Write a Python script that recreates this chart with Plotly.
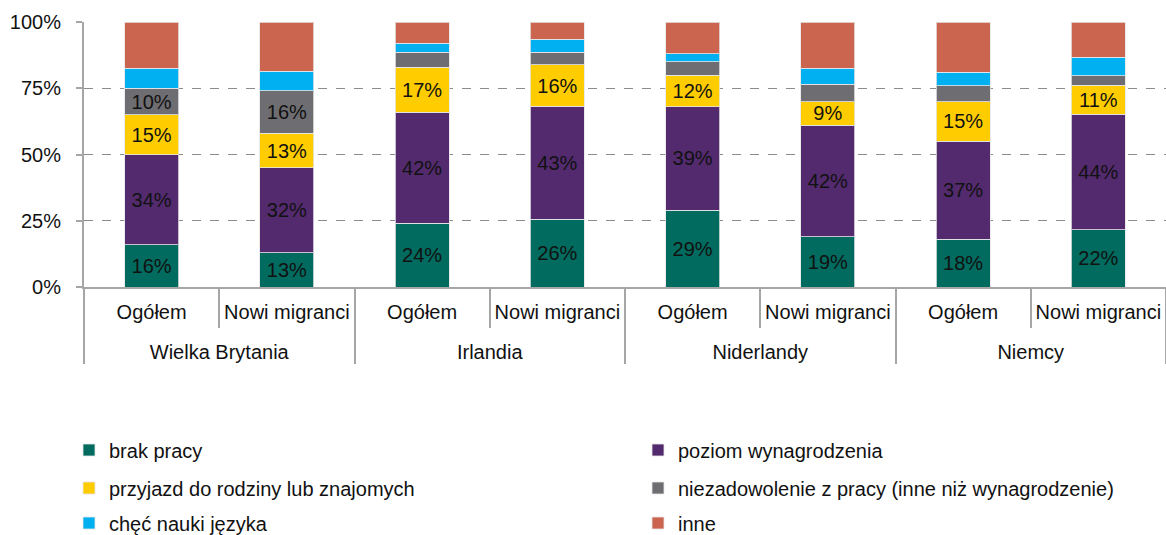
import plotly.graph_objects as go

countries = ["Wielka Brytania", "Wielka Brytania", "Irlandia", "Irlandia",
             "Niderlandy", "Niderlandy", "Niemcy", "Niemcy"]
groups = ["Ogółem", "Nowi migranci"] * 4

brak_pracy = [16, 13, 24, 25.6, 29, 19, 18, 21.6]
poziom_wynagrodzenia = [34, 32, 42, 42.6, 39, 42, 37, 43.6]
przyjazd = [15, 13, 17, 15.6, 12, 9, 15, 11]
niezadowolenie = [10, 16, 5.5, 4.8, 5, 6.5, 6, 3.5]
chec_nauki = [7.5, 7.5, 3.5, 4.8, 3, 6, 5, 7]
inne = [17.5, 18.5, 8, 6.6, 12, 17.5, 19, 13.3]
niezadowolenie_labeled = [True, True, False, False, False, False, False, False]

y_ticks = [0, 25, 50, 75, 100]

series = [
    ("brak pracy", brak_pracy, "#006B5E", [True] * 8),
    ("poziom wynagrodzenia", poziom_wynagrodzenia, "#532A6E", [True] * 8),
    ("przyjazd do rodziny lub znajomych", przyjazd, "#FFCC00", [True] * 8),
    ("niezadowolenie z pracy (inne niż wynagrodzenie)", niezadowolenie, "#6E6D71",
     niezadowolenie_labeled),
    ("chęć nauki języka", chec_nauki, "#00B0F0", [False] * 8),
    ("inne", inne, "#CB654F", [False] * 8),
]

W, H = 1166, 535
legend_cols = [69 / W, 638 / W]
legend_rows = [(H - 450) / H, (H - 488) / H, (H - 523) / H]

# a tiny extra line under each group label spaces the country row further down
group_labels = [g + "<br><span style='font-size:1px'>\u00a0</span>" for g in groups]

FONT = "Liberation Sans, Arial, sans-serif"

fig = go.Figure()
legend_layout = {}
for i, (name, vals, color, labeled) in enumerate(series):
    leg = "legend" if i == 0 else f"legend{i + 1}"
    fig.add_trace(go.Bar(
        name=name,
        x=[countries, group_labels],
        y=vals,
        marker=dict(color=color, line=dict(color="rgba(230,230,230,0.8)", width=1)),
        text=[f"{v:.0f}%" if show else "" for v, show in zip(vals, labeled)],
        textposition="inside",
        insidetextanchor="middle",
        textangle=0,
        textfont=dict(family=FONT, size=20, color="#111111"),
        legend=leg,
        showlegend=True,
        hoverinfo="skip",
    ))
    legend_layout[leg] = dict(
        visible=True,
        orientation="h", xref="container", yref="container",
        x=legend_cols[i % 2], xanchor="left",
        y=legend_rows[i // 2], yanchor="middle",
        font=dict(family=FONT, size=20, color="#111111"),
        bgcolor="rgba(0,0,0,0)",
    )

fig.update_layout(
    width=W, height=H,
    margin=dict(l=84, r=0, t=22, b=248, autoexpand=False),
    showlegend=True,
    barmode="stack",
    bargap=0.6,
    plot_bgcolor="white",
    paper_bgcolor="white",
    font=dict(family=FONT, size=20, color="#111111"),
    uniformtext=dict(minsize=20, mode="show"),
    **legend_layout,
    xaxis=dict(
        type="multicategory", automargin=False,
        showline=True, linecolor="#A6A6A6", linewidth=2,
        ticks="outside", tickson="boundaries", ticklen=39,
        tickcolor="#A6A6A6", tickwidth=2,
        showdividers=True, dividercolor="#A6A6A6", dividerwidth=2,
        tickangle=0,
        ticklabelstandoff=6,
        tickfont=dict(family=FONT, size=20, color="#111111"),
        showgrid=False,
    ),
    yaxis=dict(
        automargin=False,
        range=[0, 100], tickvals=y_ticks, ticktext=[f"{t}%" for t in y_ticks],
        showline=True, linecolor="#A6A6A6", linewidth=2,
        ticks="outside", ticklen=6, tickcolor="#A6A6A6", tickwidth=2,
        ticklabelstandoff=11,
        showgrid=True, gridcolor="#8C8C8C", gridwidth=1, griddash="dash",
        zeroline=False,
        tickfont=dict(family=FONT, size=20, color="#111111"),
    ),
)

fig.write_html("out.html", config={"displayModeBar": False},
               post_script="document.body.style.margin='0px';")
